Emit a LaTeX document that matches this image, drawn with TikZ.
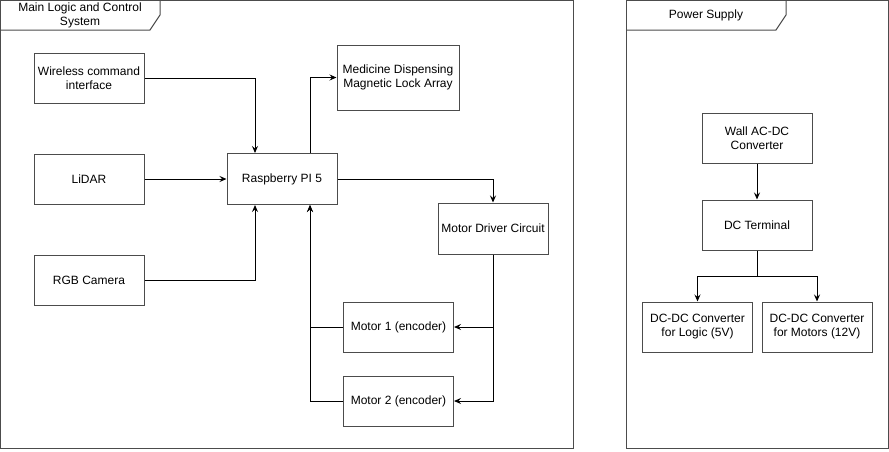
\documentclass[tikz,border=0pt]{standalone}
\usepackage{fontspec}
\setmainfont{Liberation Sans}
\usetikzlibrary{arrows.meta}
\begin{document}
\begin{tikzpicture}[x=1pt,y=-1pt,
  font=\fontsize{12pt}{14pt}\selectfont,
  box/.style={draw=black!70,line width=1pt,rectangle,minimum width=110pt,minimum height=50pt,align=center,inner sep=2pt},
  frame/.style={draw=black!70,line width=1pt},
  arr/.style={draw=black,line width=1pt,-{Stealth[length=7pt,width=6pt,inset=2.5pt]}},
  ln/.style={draw=black,line width=1pt},
  tab/.style={align=center,inner sep=0pt}]
\useasboundingbox (0,0) rectangle (889,451);
% frames
\draw[frame] (0.5,0.5) rectangle (573.5,448.5);
\draw[frame] (0.5,30) -- (150,30) -- (160,15) -- (160,0.5);
\node[tab] (tmain) at (80,15) {Main Logic and Control\\System};
\draw[frame] (626.5,0.5) rectangle (888,448.5);
\draw[frame] (626.5,30) -- (776,30) -- (786,15) -- (786,0.5);
\node[tab] (tpow) at (706,15) {Power Supply};
% main nodes
\node[box] (wci) at (89,78) {Wireless command\\interface};
\node[box] (lidar) at (89,179) {LiDAR};
\node[box] (rgb) at (89,280) {RGB Camera};
\node[box,minimum height=51pt] (pi) at (282,179) {Raspberry PI 5};
\node[box,minimum width=122pt,minimum height=65pt] (med) at (398,77.5) {Medicine Dispensing\\Magnetic Lock Array};
\node[box,minimum height=51pt] (mdc) at (493,228.5) {Motor Driver Circuit};
\node[box] (m1) at (398.5,327) {Motor 1 (encoder)};
\node[box] (m2) at (398.5,401) {Motor 2 (encoder)};
% power nodes
\node[box] (wall) at (757,138) {Wall AC-DC\\Converter};
\node[box] (dct) at (757,225) {DC Terminal};
\node[box] (logic) at (697.5,327) {DC-DC Converter\\for Logic (5V)};
\node[box] (motors) at (817,327) {DC-DC Converter\\for Motors (12V)};
% connectors main
\draw[arr] (wci.east) -| ([xshift=-27pt]pi.north);
\draw[arr] (lidar) -- (pi);
\draw[arr] (rgb.east) -| ([xshift=-27pt]pi.south);
\draw[arr] ([xshift=28pt]pi.north) |- (med.west);
\draw[arr] (pi.east) -| (mdc.north);
\draw[arr] (mdc.south) |- (m1.east);
\draw[arr] (mdc.south) |- (m2.east);
\draw[arr] (m1.west) -| ([xshift=28pt]pi.south);
\draw[arr] (m2.west) -| ([xshift=28pt]pi.south);
% connectors power
\draw[arr] (wall) -- (dct);
\coordinate (split) at ([yshift=-26pt]dct.south);
\draw[ln] (dct.south) -- (split);
\draw[arr] (split) -| (logic.north);
\draw[arr] (split) -| (motors.north);
\end{tikzpicture}
\end{document}
